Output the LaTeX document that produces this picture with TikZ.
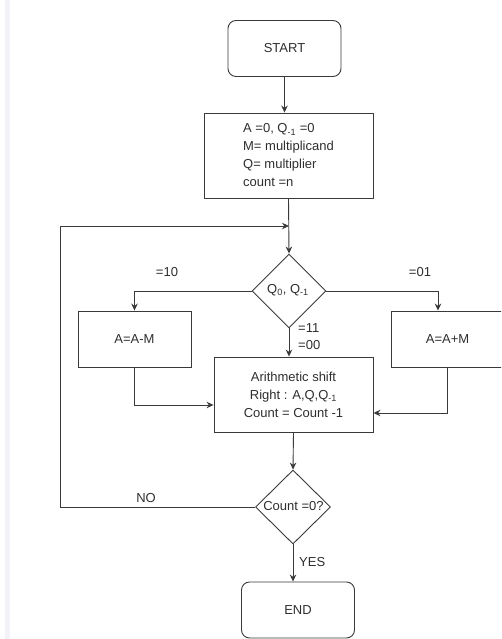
\documentclass[tikz,border=0pt]{standalone}
\usepackage{fontspec}
\setmainfont{Liberation Sans}
\usetikzlibrary{shapes.geometric,arrows.meta}
\definecolor{linec}{HTML}{3A3A3A}
\definecolor{textc}{HTML}{2E2E2E}
\definecolor{stripc}{HTML}{F1F3F9}
\begin{document}
\begin{tikzpicture}[x=1pt,y=-1pt,
  every node/.style={text=textc,font=\fontsize{13}{18}\selectfont},
  conn/.style={draw=linec,line width=0.9pt},
  arr/.style={conn,-{Stealth[length=7pt,width=6.5pt]}},
  termbox/.style={draw=linec,line width=0.9pt,rounded corners=8pt,minimum width=113pt,minimum height=56pt,inner sep=0pt},
  procbox/.style={draw=linec,line width=0.9pt,inner sep=0pt},
  decbox/.style={draw=linec,line width=0.9pt,diamond,inner sep=0pt},
  lbl/.style={inner sep=0pt}
]
\useasboundingbox (0,0) rectangle (501,639);
\clip (0,0) rectangle (501,639);
\fill[stripc] (5,0) rectangle (10,639);

\node[termbox] (start) at (284.5,48.5) {START};
\node[procbox,minimum width=169pt,minimum height=85pt,align=left] (init) at (288.5,155.5)
  {A =0, Q\textsubscript{-1} =0\\M= multiplicand\\Q= multiplier\\count =n};
\node[decbox,minimum width=74pt,minimum height=74pt] (qd) at (289,291) {};
\node[lbl] (qdt) at (288,290) {Q\textsubscript{0}, Q\textsubscript{-1}};
\node[procbox,minimum width=113pt,minimum height=56pt] (amm) at (134.5,339) {A=A-M};
\node[procbox,minimum width=113pt,minimum height=56pt] (apm) at (447.5,339) {A=A+M};
\node[procbox,minimum width=159pt,minimum height=75pt,align=center] (shift) at (293.5,394.5)
  {Arithmetic shift\\Right : A,Q,Q\textsubscript{-1}\\Count = Count -1};
\node[decbox,minimum width=75pt,minimum height=74pt] (cd) at (293,507) {};
\node[lbl] (cdt) at (293.5,506) {Count =0?};
\node[termbox] (endn) at (298,610) {END};

\coordinate (loopin) at (289,226);

\draw[arr] (start.south) -- (start.south |- init.north);
\draw[arr] (init.south) -- (qd.north);
\draw[arr] (cd.west) -- ++(-195,0) |- (loopin);
\draw[arr] (qd.west) -| (amm.north);
\draw[arr] (qd.east) -| ([xshift=-9.5pt]apm.north);
\draw[arr] (qd.south) -- (qd.south |- shift.north);
\draw[arr] (amm.south) |- ([yshift=-10.5pt]shift.west);
\draw[arr] (apm.south) |- ([yshift=-18.5pt]shift.east);
\draw[arr] (shift.south) -- (cd.north);
\draw[arr] (cd.south) -- (cd.south |- endn.north);

\node[lbl] (l10) at (167,272) {=10};
\node[lbl] (l01) at (420,272) {=01};
\node[lbl,anchor=west] (l11) at (298,328) {=11};
\node[lbl,anchor=west] (l00) at (298,345) {=00};
\node[lbl] (lno) at (146,498) {NO};
\node[lbl,anchor=west] (lyes) at (299,562) {YES};
\end{tikzpicture}
\end{document}
